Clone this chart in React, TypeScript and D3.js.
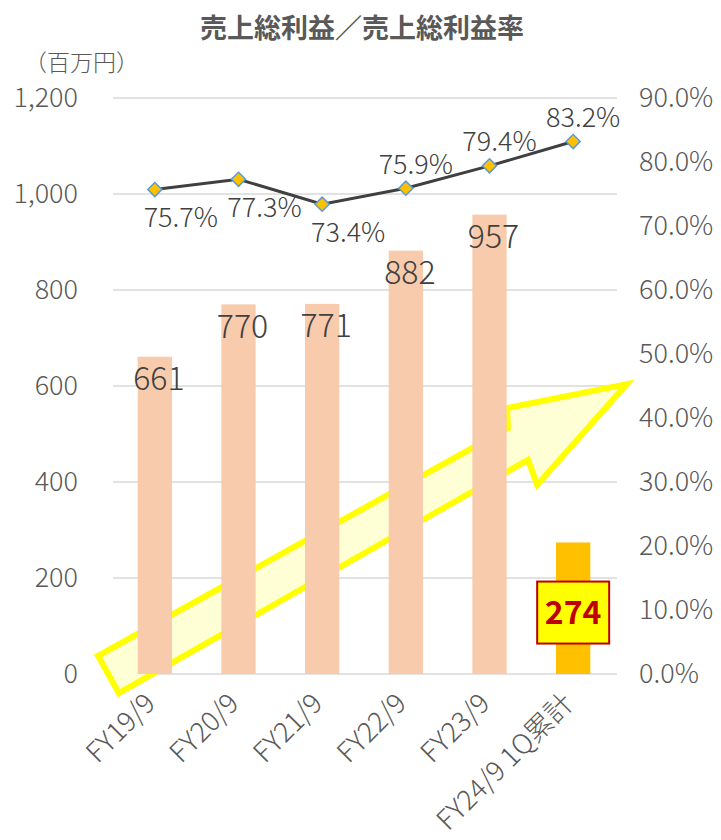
import React, { useRef, useEffect } from "react";
import * as d3 from "d3";

// categories and values
const categories = ["FY19/9", "FY20/9", "FY21/9", "FY22/9", "FY23/9", "FY24/9 1Q累計"];
const grossProfit = [661, 770, 771, 882, 957, 274];
const grossMargin = [0.757, 0.773, 0.734, 0.759, 0.794, 0.832];
const labelPlace = ["below", "below", "below", "above", "above", "above"];
const leftTicks = [0, 200, 400, 600, 800, 1000, 1200];
const rightTicks = [0, 0.1, 0.2, 0.3, 0.4, 0.5, 0.6, 0.7, 0.8, 0.9];

// arrow annotation, in (category offset, left-axis value) units
const arrowShape: [number, number][] = [
  [-0.68, 38],
  [4.22, 512],
  [4.21, 554],
  [5.64, 604],
  [4.57, 394],
  [4.46, 446],
  [-0.43, -40],
];

const FONT = '"Noto Sans CJK JP", "Noto Sans", sans-serif';
const GRAY = "#595959";

const App = () => {
  const svgRef = useRef<SVGSVGElement>(null);

  useEffect(() => {
    const width = 721;
    const height = 840;
    const margin = { top: 98, bottom: 166, left: 113, right: 106 };

    const svg = d3.select(svgRef.current);
    svg.selectAll("*").remove();

    const x = d3
      .scaleBand()
      .domain(categories)
      .range([margin.left, width - margin.right])
      .paddingInner(0.59)
      .paddingOuter(0.295);

    const y = d3
      .scaleLinear()
      .domain([0, 1200])
      .range([height - margin.bottom, margin.top]);

    const y2 = d3
      .scaleLinear()
      .domain([0, 0.9])
      .range([height - margin.bottom, margin.top]);

    const cx = (i: number) => x(categories[0])! + x.bandwidth() / 2 + i * x.step();

    // title
    svg
      .append("text")
      .attr("x", 362)
      .attr("y", 38)
      .attr("text-anchor", "middle")
      .attr("font-size", 27)
      .attr("font-weight", "bold")
      .attr("fill", GRAY)
      .text("売上総利益／売上総利益率");

    svg
      .append("text")
      .attr("x", 24)
      .attr("y", 71)
      .attr("font-size", 23)
      .attr("font-weight", 300)
      .attr("fill", GRAY)
      .text("（百万円）");

    // gridlines
    svg
      .append("g")
      .selectAll("line")
      .data(leftTicks)
      .join("line")
      .attr("x1", margin.left)
      .attr("x2", width - margin.right + 2)
      .attr("y1", (d) => y(d))
      .attr("y2", (d) => y(d))
      .attr("stroke", "#d9d9d9")
      .attr("stroke-width", 1.5);

    // axes
    const yAxis = svg
      .append("g")
      .attr("transform", `translate(${margin.left - 35},0)`)
      .call(d3.axisLeft(y).tickValues(leftTicks).tickSize(0).tickPadding(0).tickFormat(d3.format(",")));
    yAxis.select(".domain").remove();
    yAxis
      .selectAll("text")
      .attr("font-size", 27)
      .attr("font-weight", 300)
      .attr("fill", GRAY)
      .attr("font-family", FONT);

    const y2Axis = svg
      .append("g")
      .attr("transform", `translate(${width - margin.right + 24},0)`)
      .call(d3.axisRight(y2).tickValues(rightTicks).tickSize(0).tickPadding(0).tickFormat(d3.format(".1%")));
    y2Axis.select(".domain").remove();
    y2Axis
      .selectAll("text")
      .attr("font-size", 27)
      .attr("font-weight", 300)
      .attr("fill", GRAY)
      .attr("font-family", FONT);

    const xAxis = svg
      .append("g")
      .attr("transform", `translate(0,${height - margin.bottom})`)
      .call(d3.axisBottom(x).tickSize(0).tickPadding(0));
    xAxis.select(".domain").remove();
    xAxis
      .selectAll("text")
      .attr("font-size", 27.5)
      .attr("font-weight", 300)
      .attr("fill", GRAY)
      .attr("font-family", FONT)
      .attr("text-anchor", "end")
      .attr("dy", 0)
      .attr("transform", "translate(2,31) rotate(-45)");

    // arrow annotation (behind bars)
    svg
      .append("path")
      .attr("d", d3.line()(arrowShape.map(([u, v]) => [cx(u), y(v)])) + "Z")
      .attr("fill", "#ffffd5")
      .attr("stroke", "#ffff00")
      .attr("stroke-width", 6)
      .attr("stroke-linejoin", "miter");

    // bars
    svg
      .append("g")
      .selectAll("rect")
      .data(grossProfit)
      .join("rect")
      .attr("x", (d, i) => x(categories[i])!)
      .attr("y", (d) => y(d))
      .attr("width", x.bandwidth())
      .attr("height", (d) => y(0) - y(d))
      .attr("fill", (d, i) => (i === grossProfit.length - 1 ? "#ffc000" : "#f8cbad"));

    // bar labels
    svg
      .append("g")
      .selectAll("text")
      .data(grossProfit.slice(0, -1))
      .join("text")
      .attr("x", (d, i) => cx(i) + 4)
      .attr("y", (d) => y(d) + 22)
      .attr("dy", "0.35em")
      .attr("text-anchor", "middle")
      .attr("font-size", 32)
      .attr("font-weight", 300)
      .attr("fill", "#404040")
      .text((d) => d);

    // boxed label for the current quarter
    const last = grossProfit.length - 1;
    const bx = cx(last);
    const by = y(128);
    svg
      .append("rect")
      .attr("x", bx - 36)
      .attr("y", by - 31)
      .attr("width", 72)
      .attr("height", 62)
      .attr("fill", "#ffff00")
      .attr("stroke", "#c00000")
      .attr("stroke-width", 2);
    svg
      .append("text")
      .attr("x", bx)
      .attr("y", by)
      .attr("dy", "0.36em")
      .attr("text-anchor", "middle")
      .attr("font-size", 32)
      .attr("font-weight", "bold")
      .attr("fill", "#c00000")
      .text(grossProfit[last]);

    // margin line
    const line = d3
      .line<number>()
      .x((d, i) => cx(i))
      .y((d) => y2(d));

    svg
      .append("path")
      .attr("d", line(grossMargin))
      .attr("fill", "none")
      .attr("stroke", "#404040")
      .attr("stroke-width", 3);

    svg
      .append("g")
      .selectAll("path")
      .data(grossMargin)
      .join("path")
      .attr("d", d3.symbol(d3.symbolSquare, 100)())
      .attr("transform", (d, i) => `translate(${cx(i)},${y2(d)}) rotate(45)`)
      .attr("fill", "#ffc000")
      .attr("stroke", "#5b9bd5")
      .attr("stroke-width", 1.5);

    svg
      .append("g")
      .selectAll("text")
      .data(grossMargin)
      .join("text")
      .attr("x", (d, i) => cx(i) + (labelPlace[i] === "below" ? 26 : 10))
      .attr("y", (d, i) => y2(d) + (labelPlace[i] === "below" ? 28 : -24))
      .attr("dy", "0.35em")
      .attr("text-anchor", "middle")
      .attr("font-size", 27)
      .attr("font-weight", 300)
      .attr("fill", "#404040")
      .text((d) => d3.format(".1%")(d));
  }, []);

  return (
    <svg
      ref={svgRef}
      width={721}
      height={840}
      style={{ position: "absolute", left: 0, top: 0, background: "#fff", fontFamily: FONT }}
    />
  );
};

export default App;
